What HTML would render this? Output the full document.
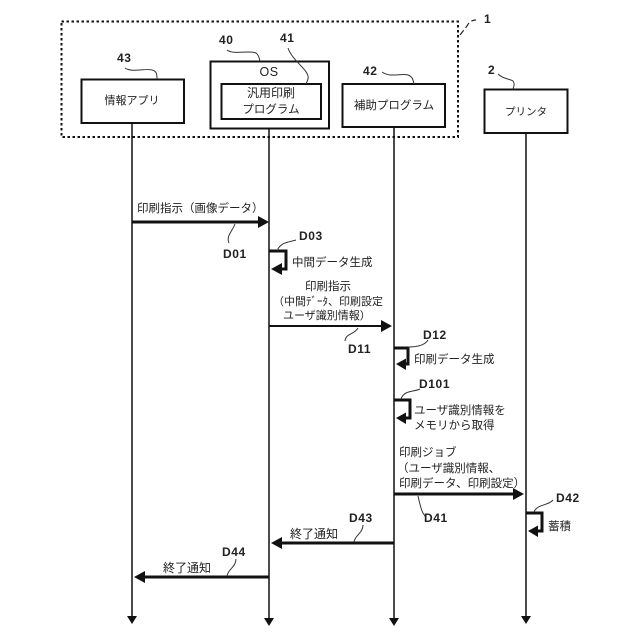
<!DOCTYPE html>
<html><head><meta charset="utf-8"><style>
html,body{margin:0;padding:0;background:#fff}
svg{display:block}
text{font-family:"Liberation Sans","Noto Sans CJK JP",sans-serif;fill:#222;font-size:11.5px}
.n{font-size:12px;font-weight:bold;letter-spacing:.6px}
.b{fill:none;stroke:#111;stroke-width:2}
.l{fill:none;stroke:#111;stroke-width:1.5}
.t{fill:none;stroke:#111;stroke-width:3}
.c{fill:none;stroke:#333;stroke-width:1}
.h{fill:#111;stroke:none}
</style></head><body>
<svg width="640" height="640" viewBox="0 0 640 640" xmlns="http://www.w3.org/2000/svg">
<rect width="640" height="640" fill="#fff"/>
<rect x="61.500" y="21.500" width="396.500" height="115.500" fill="none" stroke="#111" stroke-width="2" stroke-dasharray="2.500 2.500"/>
<path d="M460 35 L467 26 Q470 20 476 20" fill="none" stroke="#222" stroke-width="1.200" stroke-dasharray="6 3"/>
<text class="n" x="484" y="23">1</text>

<rect class="b" x="81.500" y="79.500" width="102.500" height="43.500"/>
<rect class="b" x="210.500" y="61.500" width="118.500" height="67"/>
<rect class="b" x="221.500" y="84" width="99.500" height="35"/>
<rect class="b" x="342.500" y="84" width="102.500" height="43"/>
<rect class="b" x="484.500" y="89.500" width="83" height="43.500"/>

<text x="132" y="104" text-anchor="middle" style="font-size:11px">情報アプリ</text>
<text x="269" y="76" text-anchor="middle" style="font-size:12.500px;letter-spacing:.5px">OS</text>
<text x="271" y="97" text-anchor="middle" style="font-size:12px">汎用印刷</text>
<text x="271" y="113" text-anchor="middle" style="font-size:11.500px">プログラム</text>
<text x="394" y="109" text-anchor="middle" style="font-size:11.500px">補助プログラム</text>
<text x="526" y="115" text-anchor="middle" style="font-size:10.500px">プリンタ</text>

<text class="n" x="117" y="62">43</text>
<text class="n" x="219" y="44">40</text>
<text class="n" x="280" y="42">41</text>
<text class="n" x="363" y="75">42</text>
<text class="n" x="488" y="74">2</text>
<path class="c" d="M125 68 C132 73 145 68 152 70 C157 71 157 75 157 79"/>
<path class="c" d="M227 50 C233 55 250 50 256 53 C259 55 259 58 260 61"/>
<path class="c" d="M288 48 C292 60 306 68 308 76 C309 79 307 81 306 84"/>
<path class="c" d="M382 72 C390 78 402 73 408 75 C413 77 413 80 414 84"/>
<path class="c" d="M498 74 C503 79 510 79 513 81 C515 84 514 86 513 89"/>

<path class="l" d="M132 123 V616"/><path class="h" d="M127 616 H137 L132 624 Z"/>
<path class="l" d="M269 128 V618"/><path class="h" d="M264 618 H274 L269 626 Z"/>
<path class="l" d="M394 127 V618"/><path class="h" d="M389 618 H399 L394 626 Z"/>
<path class="l" d="M526 133 V616"/><path class="h" d="M521 616 H531 L526 624 Z"/>

<path class="t" d="M132 222 H260"/><path class="h" d="M258 216 L269 222 L258 228 Z"/>
<text x="137" y="212" style="font-size:11.500px">印刷指示（画像データ）</text>
<path class="c" d="M235 224 C232 232 226 236 229 243"/>
<text class="n" x="223" y="258">D01</text>

<path class="t" d="M269 251 H286 V269 H276"/><path class="h" d="M271 269 L282 263 L282 275 Z"/>
<path class="c" d="M277 251 C280 242 290 242 296 240"/>
<text class="n" x="299" y="240">D03</text>
<text x="292" y="266" style="font-size:11.500px">中間データ生成</text>

<text x="328" y="290" text-anchor="middle">印刷指示</text>
<text x="273" y="305" style="font-size:11px">（中間ﾃﾞｰﾀ、印刷設定</text>
<text x="283" y="319" style="font-size:11px">ユーザ識別情報）</text>
<path class="l" style="stroke-width:2" d="M269 326 H384"/><path class="h" d="M381 320 L392 326 L381 332 Z"/>
<path class="c" d="M358 328 C354 335 346 333 345 341"/>
<text class="n" x="348" y="353">D11</text>

<path class="t" d="M394 348 H408 V364 H401"/><path class="h" d="M396 364 L406 358.500 L406 370 Z"/>
<path class="c" d="M408 347 C418 347 425 345 428 340"/>
<text class="n" x="423" y="339">D12</text>
<text x="414" y="363" style="font-size:11.500px">印刷データ生成</text>

<path class="t" d="M394 400 H410 V418 H401"/><path class="h" d="M396 418 L406 412.500 L406 424 Z"/>
<path class="c" d="M401 399 C404 390 414 392 420 389"/>
<text class="n" x="419" y="388">D101</text>
<text x="414" y="414" style="font-size:11.500px">ユーザ識別情報を</text>
<text x="414" y="429" style="font-size:11.500px">メモリから取得</text>

<text x="399" y="456" style="font-size:11.500px">印刷ジョブ</text>
<text x="397" y="472" style="font-size:11.500px">（ユーザ識別情報、</text>
<text x="399" y="487" style="font-size:11.500px">印刷データ、印刷設定）</text>
<path class="t" d="M394 494 H515"/><path class="h" d="M513 488 L524 494 L513 500 Z"/>
<path class="c" d="M418 496 C420 505 422 514 426 517"/>
<text class="n" x="424" y="522">D41</text>

<path class="t" d="M526 513 H542 V531 H533"/><path class="h" d="M528 531 L538 525.500 L538 537 Z"/>
<path class="c" d="M534 512 C537 504 548 506 553 500"/>
<text class="n" x="556" y="502">D42</text>
<text x="548" y="530" style="font-size:11.500px">蓄積</text>

<path class="t" d="M394 543 H280"/><path class="h" d="M271 543 L282 537 L282 549 Z"/>
<text x="290" y="538" style="font-size:12px">終了通知</text>
<path class="c" d="M354 542 C355 535 363 533 363 525"/>
<text class="n" x="349" y="522">D43</text>

<path class="t" d="M269 577 H144"/><path class="h" d="M134 577 L145 571 L145 583 Z"/>
<text x="163" y="572" style="font-size:12px">終了通知</text>
<path class="c" d="M227 576 C228 569 236 567 236 559"/>
<text class="n" x="222" y="556">D44</text>
</svg>
</body></html>
